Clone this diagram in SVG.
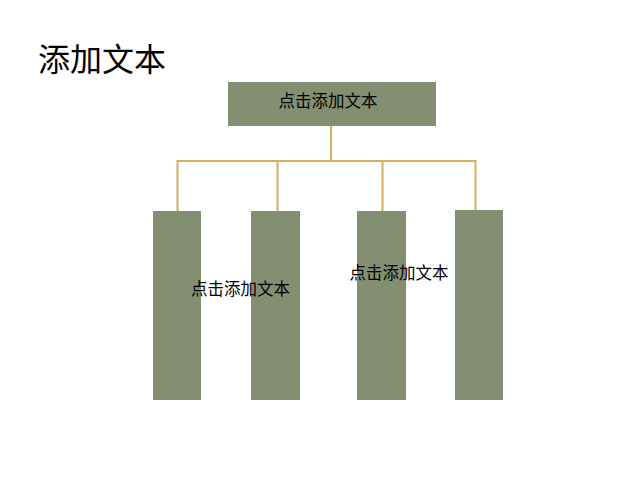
<svg xmlns="http://www.w3.org/2000/svg" width="635" height="488" viewBox="0 0 635 488">
<style>
.box{fill:#848F71;}
.t{font-family:"Microsoft YaHei","Noto Sans CJK SC",sans-serif;fill:#000;}
.c{stroke:#D6AE63;stroke-width:2;fill:none;}
</style>
<rect width="635" height="488" fill="#fff"/>
<text class="t" x="38" y="71" font-size="32">添加文本</text>
<g id="connectors">
<path class="c" d="M331 126V161M177.5 161H476M177.5 160V211M277.5 160V211M382.5 160V211M475.5 160V210"/>
</g>
<g id="top"><rect class="box" x="228" y="82" width="208" height="44"/><text class="t" x="328" y="107" font-size="16.5" text-anchor="middle">点击添加文本</text></g>
<g id="bar1"><rect class="box" x="153" y="211" width="48" height="189"/></g>
<g id="bar2"><rect class="box" x="251" y="211" width="49" height="189"/></g>
<g id="bar3"><rect class="box" x="357" y="211" width="49" height="189"/></g>
<g id="bar4"><rect class="box" x="455" y="210" width="48" height="190"/></g>
<g id="label1"><text class="t" x="240.5" y="295" font-size="16.5" text-anchor="middle">点击添加文本</text></g>
<g id="label2"><text class="t" x="399" y="279" font-size="16.5" text-anchor="middle">点击添加文本</text></g>
</svg>
